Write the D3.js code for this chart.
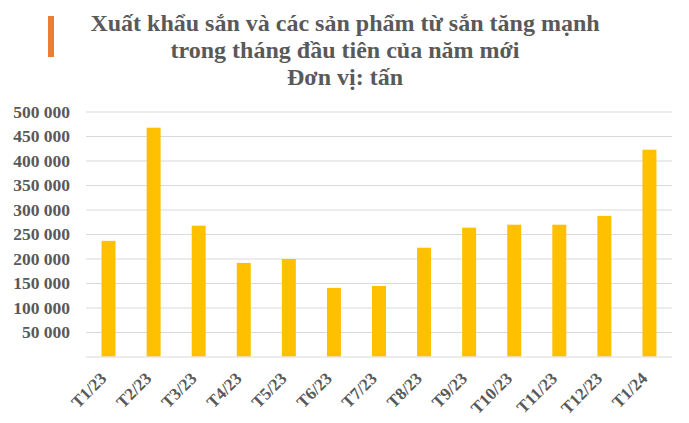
<!DOCTYPE html>
<html><head><meta charset="utf-8">
<script src="https://cdn.jsdelivr.net/npm/d3@7"></script>
<style>body{margin:0;background:#fff}svg{display:block}</style>
</head><body>
<script>
const categories = ["T1/23","T2/23","T3/23","T4/23","T5/23","T6/23","T7/23","T8/23","T9/23","T10/23","T11/23","T12/23","T1/24"];
const values = [236000,467000,267000,191000,199000,140000,144000,222000,263000,269000,269000,287000,422000];
const yTicks = [50000,100000,150000,200000,250000,300000,350000,400000,450000,500000];
const titleLines = ["Xuất khẩu sắn và các sản phẩm từ sắn tăng mạnh","trong tháng đầu tiên của năm mới","Đơn vị: tấn"];

const W=689,H=423;
const svg=d3.select("body").append("svg").attr("width",W).attr("height",H);
const font='"Liberation Serif", "Times New Roman", serif';
const grey="#595959";

svg.append("rect").attr("x",48).attr("y",16).attr("width",6).attr("height",41).attr("fill","#ED7D31");
svg.append("g").selectAll("text").data(titleLines).join("text")
  .attr("x",345).attr("y",(d,i)=>31+i*27)
  .attr("text-anchor","middle").style("font-family",font).style("font-weight","bold")
  .style("font-size","24px").attr("fill",grey).text(d=>d);

const x=d3.scaleBand().domain(categories).range([86,672]).paddingInner(0.69).paddingOuter(0.345);
const y=d3.scaleLinear().domain([0,500000]).range([356.5,111.5]);

const fmt=v=>d3.format(",")(v).replace(/,/g," ");

const yAxis=svg.append("g").attr("transform","translate(86,0)")
  .call(d3.axisLeft(y).tickValues(yTicks).tickSize(-586).tickFormat(fmt).tickPadding(16));
yAxis.select(".domain").remove();
yAxis.selectAll(".tick line").attr("stroke","#d9d9d9").attr("stroke-width",1);
yAxis.selectAll(".tick text").style("font-family",font).style("font-weight","bold").style("font-size","17.5px").attr("fill",grey);

svg.append("g").selectAll("rect").data(values).join("rect")
  .attr("x",(d,i)=>x(categories[i])).attr("width",x.bandwidth())
  .attr("y",d=>y(d)).attr("height",d=>y(0)-y(d)).attr("fill","#FFC000");

const xAxis=svg.append("g").attr("transform",`translate(0,${y(0)})`)
  .call(d3.axisBottom(x).tickSize(0).tickPadding(0));
xAxis.select(".domain").attr("stroke","#d9d9d9").attr("d","M86,0.5H672");
xAxis.selectAll(".tick text").style("font-family",font).style("font-weight","bold").style("font-size","17px").attr("fill",grey)
  .attr("text-anchor","end").attr("dy",0).attr("transform","translate(-1,23) rotate(-45)");
</script>
</body></html>
